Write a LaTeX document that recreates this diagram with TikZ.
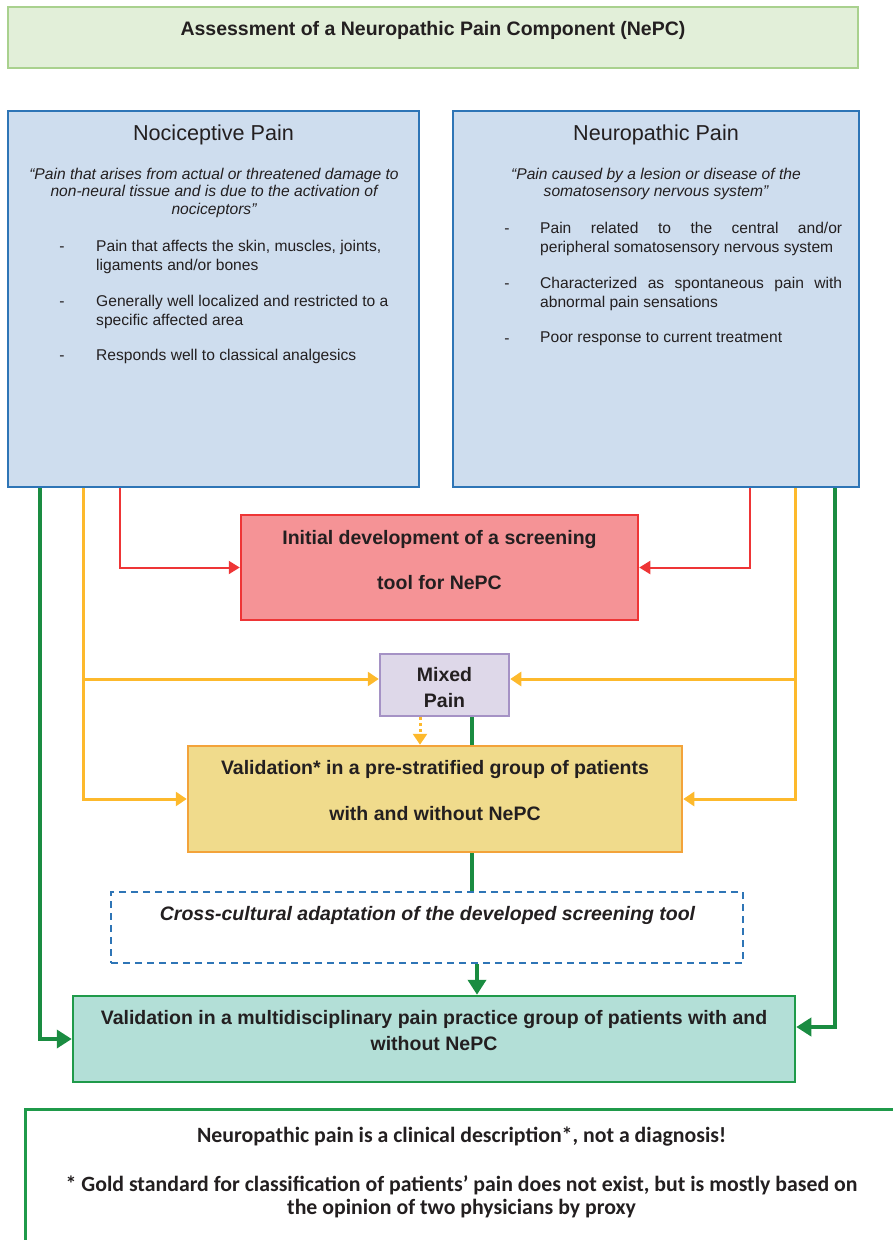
\documentclass[tikz,border=0pt]{standalone}
\usepackage{fontspec}
\usepackage{xcolor}
\newfontfamily\arialfont{Liberation Sans}
\newfontfamily\calfont{Carlito}
\usetikzlibrary{arrows.meta,backgrounds}

\definecolor{headfill}{HTML}{E2EFD9}
\definecolor{headline}{HTML}{A9D18E}
\definecolor{painfill}{HTML}{CEDDEE}
\definecolor{painline}{HTML}{2E75B6}
\definecolor{initfill}{HTML}{F59396}
\definecolor{initline}{HTML}{EE3536}
\definecolor{mixfill}{HTML}{DED8E9}
\definecolor{mixline}{HTML}{A592C5}
\definecolor{valfill}{HTML}{F0DB8C}
\definecolor{valline}{HTML}{F3A33A}
\definecolor{finalfill}{HTML}{B3DFD7}
\definecolor{finalline}{HTML}{1F9A4A}
\definecolor{greenline}{HTML}{1A8C41}
\definecolor{yellowline}{HTML}{FDB92C}
\definecolor{txtgrey}{HTML}{231F20}

\begin{document}
\begin{tikzpicture}[line join=miter,x=1pt,y=-1pt,
  box/.style={draw,rectangle,line width=2.5pt,inner sep=0pt},
  headbox/.style={box,draw=headline,fill=headfill},
  painbox/.style={box,draw=painline,fill=painfill},
  initbox/.style={box,draw=initline,fill=initfill},
  mixbox/.style={box,draw=mixline,fill=mixfill},
  valbox/.style={box,draw=valline,fill=valfill},
  crossbox/.style={box,draw=painline,fill=white,dash pattern=on 7pt off 5pt},
  finalbox/.style={box,draw=finalline,fill=finalfill},
  notebox/.style={box,draw=finalline,fill=white},
  boldtxt/.style={text=txtgrey,align=center,inner sep=0pt,font=\arialfont\bfseries\fontsize{19.5}{23}\selectfont},
  bigtxt/.style={text=txtgrey,inner sep=0pt,font=\arialfont\fontsize{21.6}{26}\selectfont},
  quotetxt/.style={text=txtgrey,align=center,inner sep=0pt,font=\arialfont\itshape\fontsize{15.6}{17.8}\selectfont},
  itemtxt/.style={text=txtgrey,align=left,inner sep=0pt,anchor=north west,font=\arialfont\fontsize{15.6}{18.5}\selectfont},
  dashtxt/.style={text=txtgrey,inner sep=0pt,font=\arialfont\fontsize{15.6}{18.5}\selectfont},
  notetxt/.style={text=txtgrey,align=center,inner sep=0pt,font=\calfont\bfseries\fontsize{21.8}{23}\selectfont},
  redarrow/.style={draw=initline,line width=2pt,>={Triangle[length=11pt,width=13pt]}},
  yellowarrow/.style={draw=yellowline,line width=3pt,>={Triangle[length=11pt,width=14pt]}},
  greenarrow/.style={draw=greenline,line width=4pt,>={Triangle[length=15pt,width=18pt]}}]
\useasboundingbox (0,0) rectangle (893,1240);
\clip (0,0) rectangle (893,1240);

% title
\node[headbox,minimum width=850pt,minimum height=61pt] (head) at (433,37.5) {};
\node[boldtxt] (headtxt) at (433,30) {Assessment of a Neuropathic Pain Component (NePC)};

% the two kinds of pain
\node[painbox,minimum width=411pt,minimum height=376pt] (noci) at (213.5,299) {};
\node[painbox,minimum width=406pt,minimum height=376pt] (neuro) at (656,299) {};

\node[bigtxt] (nocihead) at (213.5,135) {Nociceptive Pain};
\node[quotetxt,anchor=north] (nociquote) at (214,167.5) {“Pain that arises from actual or threatened damage to\\non-neural tissue and is due to the activation of\\nociceptors”};
\node[dashtxt] (nocidasha) at (62,249) {-};
\node[itemtxt] (nociitema) at (96,240) {Pain that affects the skin, muscles, joints,\\ligaments and/or bones};
\node[dashtxt] (nocidashb) at (62,304) {-};
\node[itemtxt] (nociitemb) at (96,295) {Generally well localized and restricted to a\\specific affected area};
\node[dashtxt] (nocidashc) at (62,358) {-};
\node[itemtxt] (nociitemc) at (96,349) {Responds well to classical analgesics};

\node[bigtxt] (neurohead) at (656,135) {Neuropathic Pain};
\node[quotetxt,anchor=north] (neuroquote) at (656,167.5) {“Pain caused by a lesion or disease of the\\somatosensory nervous system”};
\node[dashtxt] (neurodasha) at (507,231) {-};
\node[itemtxt] (neuroitema) at (540,222) {\makebox[302pt][s]{Pain related to the central and/or}\\peripheral somatosensory nervous system};
\node[dashtxt] (neurodashb) at (507,286) {-};
\node[itemtxt] (neuroitemb) at (540,277) {\makebox[302pt][s]{Characterized as spontaneous pain with}\\abnormal pain sensations};
\node[dashtxt] (neurodashc) at (507,341) {-};
\node[itemtxt] (neuroitemc) at (540,332) {Poor response to current treatment};

% steps
\node[initbox,minimum width=397pt,minimum height=105pt] (init) at (439.5,567.5) {};
\node[boldtxt,font=\arialfont\bfseries\fontsize{19.5}{45}\selectfont] (inittxt) at (439.5,560.5) {Initial development of a screening\\tool for NePC};

\node[mixbox,minimum width=129pt,minimum height=62pt] (mixed) at (444.5,685) {};
\node[boldtxt,font=\arialfont\bfseries\fontsize{19.5}{26}\selectfont] (mixedtxt) at (444.5,688) {Mixed\\Pain};

\node[valbox,minimum width=494pt,minimum height=106pt] (val) at (435,799) {};
\node[boldtxt,font=\arialfont\bfseries\fontsize{19.5}{46}\selectfont] (valtxt) at (435,791) {Validation* in a pre-stratified group of patients\\with and without NePC};

\node[crossbox,minimum width=632pt,minimum height=71pt] (cross) at (427,927.5) {};
\node[boldtxt,font=\arialfont\bfseries\itshape\fontsize{19.5}{23}\selectfont] (crosstxt) at (427.5,915) {Cross-cultural adaptation of the developed screening tool};

\node[finalbox,minimum width=722pt,minimum height=86pt] (valmulti) at (434,1039) {};
\node[boldtxt,font=\arialfont\bfseries\fontsize{19.5}{26}\selectfont] (valmultitxt) at (434,1031) {Validation in a multidisciplinary pain practice group of patients with and\\without NePC};

% note
\node[notebox,minimum width=874pt,minimum height=160pt,anchor=north west] (note) at (24,1108) {};
\node[notetxt] (notea) at (461.5,1137) {Neuropathic pain is a clinical description*, not a diagnosis!};
\node[notetxt] (noteb) at (461.5,1196.5) {* Gold standard for classification of patients’ pain does not exist, but is mostly based on\\the opinion of two physicians by proxy};

% connectors
\coordinate (redl) at (120,0);
\coordinate (redr) at (750,0);
\coordinate (yellowl) at (83,0);
\coordinate (yellowr) at (795,0);
\coordinate (greenl) at (40,0);
\coordinate (greenr) at (835,0);
\coordinate (greenm) at (472,0);
\coordinate (greenn) at (477,0);
\coordinate (dotx) at (420,0);
\coordinate (mixin) at ([yshift=6pt]mixed.west);
\coordinate (mixout) at ([yshift=6pt]mixed.east);
\coordinate (finalin) at ([yshift=12pt]valmulti.east);

\begin{scope}[on background layer]
\draw[greenarrow] (mixed.south -| greenm) -- (cross.north -| greenm);
\end{scope}
\draw[redarrow,->] (noci.south -| redl) |- (init.west);
\draw[redarrow,->] (neuro.south -| redr) |- (init.east);
\draw[yellowarrow,->] (noci.south -| yellowl) |- (val.west);
\draw[yellowarrow,->] (neuro.south -| yellowr) |- (val.east);
\draw[yellowarrow,->] (mixin -| yellowl) -- (mixin);
\draw[yellowarrow,->] (mixout -| yellowr) -- (mixout);
\draw[yellowarrow,dash pattern=on 3pt off 3pt,->] (mixed.south -| dotx) -- (val.north -| dotx);
\draw[greenarrow,->] (cross.south -| greenn) -- (valmulti.north -| greenn);
\draw[greenarrow,->] (noci.south -| greenl) |- (valmulti.west);
\draw[greenarrow,->] (neuro.south -| greenr) |- (finalin);
\end{tikzpicture}
\end{document}
